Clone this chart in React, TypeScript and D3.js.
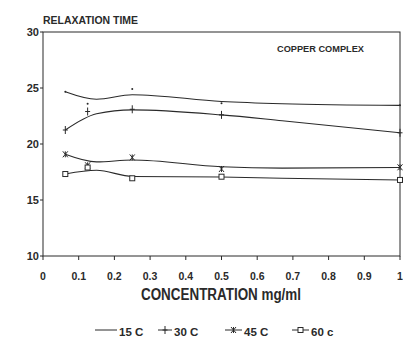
import React from 'react';
import * as d3 from 'd3';

// concentration (mg/ml) where the samples were measured
const SAMPLE_X = [0.0625, 0.125, 0.25, 0.5, 1.0];
// measured relaxation times
const T15 = [24.67, 23.6, 24.9, 23.63, 23.45];
const T30 = [21.25, 22.9, 23.1, 22.6, 21.0];
const T45 = [19.08, 18.1, 18.8, 17.77, 17.92];
const T60 = [17.32, 17.9, 16.94, 17.08, 16.79];

// hand-fitted curves drawn through the points
const CURVE_X = [0.0625, 0.15, 0.25, 0.5, 0.67, 1.0];
const FIT15 = [24.67, 24.0, 24.4, 23.8, 23.6, 23.45];
const FIT30 = [21.25, 22.7, 23.05, 22.6, 22.08, 21.0];
const FIT45 = [19.08, 18.4, 18.57, 17.97, 17.85, 17.9];
const FIT60 = [17.32, 17.65, 17.1, 17.05, 16.94, 16.79];

const X_TICKS = [0, 0.1, 0.2, 0.3, 0.4, 0.5, 0.6, 0.7, 0.8, 0.9, 1];
const X_TICK_LABELS = ['0', '0.1', '0.2', '0.3', '0.4', '0.5', '0.6', '0.7', '0.8', '0.9', '1'];
const Y_TICKS = [10, 15, 20, 25, 30];
const SERIES_NAMES = ['15 C', '30 C', '45 C', '60 c'];

const INK = '#2a2a2a';
const FONT = '"Liberation Sans", Arial, sans-serif';

type Kind = 'dot' | 'plus' | 'x' | 'square';

function Marker({ kind, cx, cy }: { kind: Kind; cx: number; cy: number }) {
  if (kind === 'dot') return <circle cx={cx} cy={cy} r={1} fill={INK} />;
  if (kind === 'plus')
    return (
      <path
        d={`M${cx - 2.5},${cy}H${cx + 2.5}M${cx},${cy - 4}V${cy + 4}`}
        stroke={INK}
        strokeWidth={1}
        fill="none"
      />
    );
  if (kind === 'x')
    return (
      <path
        d={`M${cx - 2.5},${cy - 3}L${cx + 2.5},${cy + 3}M${cx + 2.5},${cy - 3}L${cx - 2.5},${cy + 3}M${cx},${cy - 3}V${cy + 3}`}
        stroke={INK}
        strokeWidth={1}
        fill="none"
      />
    );
  return <rect x={cx - 2.5} y={cy - 2.5} width={5} height={5} fill="white" stroke={INK} strokeWidth={1} />;
}

export default function App() {
  const width = 403;
  const height = 337;
  const left = 43;
  const right = 400;
  const top = 32;
  const bottom = 256;

  const x = d3.scaleLinear().domain([0, 1]).range([left, right]);
  const y = d3.scaleLinear().domain([10, 30]).range([bottom, top]);

  const line = d3
    .line<number>()
    .x((_, i) => x(CURVE_X[i]))
    .y((d) => y(d))
    .curve(d3.curveMonotoneX);

  const series: { fit: number[]; pts: number[]; kind: Kind }[] = [
    { fit: FIT15, pts: T15, kind: 'dot' },
    { fit: FIT30, pts: T30, kind: 'plus' },
    { fit: FIT45, pts: T45, kind: 'x' },
    { fit: FIT60, pts: T60, kind: 'square' },
  ];

  // legend layout: line start, line end, text start
  const legendLayout = [
    [95, 117, 119],
    [158, 172, 174],
    [225, 242, 244],
    [292, 309, 311],
  ];

  return (
    <svg
      width={width}
      height={height}
      style={{ position: 'absolute', left: 0, top: 0, background: 'white' }}
      fontFamily={FONT}
    >
      <rect x={0} y={0} width={width} height={height} fill="white" />

      {/* frame */}
      <rect x={left} y={top} width={right - left} height={bottom - top} fill="none" stroke={INK} strokeWidth={1} />

      {/* y axis */}
      {Y_TICKS.map((t) => (
        <g key={t}>
          <line x1={left - 3} x2={left} y1={y(t)} y2={y(t)} stroke={INK} />
          <text x={left - 4} y={y(t)} dy="0.36em" textAnchor="end" fontSize={11} fontWeight="bold" fill={INK}>
            {t}
          </text>
        </g>
      ))}

      {/* x axis */}
      {X_TICKS.map((t, i) => (
        <g key={t}>
          <line x1={x(t)} x2={x(t)} y1={bottom} y2={bottom + 4} stroke={INK} />
          <text x={x(t)} y={280} textAnchor="middle" fontSize={10.5} fontWeight="bold" fill={INK}>
            {X_TICK_LABELS[i]}
          </text>
        </g>
      ))}

      <text x={43} y={24} fontSize={11.5} fontWeight="bold" fill={INK} textLength={95} lengthAdjust="spacingAndGlyphs">
        RELAXATION TIME
      </text>
      <text x={277} y={52} fontSize={9.5} fontWeight="bold" fill={INK} textLength={87} lengthAdjust="spacingAndGlyphs">
        COPPER COMPLEX
      </text>
      <text x={141} y={300} fontSize={16} fontWeight="bold" fill={INK} textLength={160} lengthAdjust="spacingAndGlyphs">
        CONCENTRATION mg/ml
      </text>

      {/* series */}
      {series.map((s, si) => (
        <g key={si}>
          <path d={line(s.fit) ?? ''} fill="none" stroke={INK} strokeWidth={1.1} />
          {s.pts.map((v, i) => (
            <Marker key={i} kind={s.kind} cx={x(SAMPLE_X[i])} cy={y(v)} />
          ))}
        </g>
      ))}

      {/* legend */}
      {SERIES_NAMES.map((name, i) => {
        const [x0, x1, tx] = legendLayout[i];
        const ly = 330;
        return (
          <g key={name}>
            <line x1={x0} x2={x1} y1={ly} y2={ly} stroke={INK} strokeWidth={1} />
            {series[i].kind !== 'dot' && <Marker kind={series[i].kind} cx={(x0 + x1) / 2} cy={ly} />}
            <text x={tx} y={336} fontSize={11.5} fontWeight="bold" fill={INK}>
              {name}
            </text>
          </g>
        );
      })}
    </svg>
  );
}
